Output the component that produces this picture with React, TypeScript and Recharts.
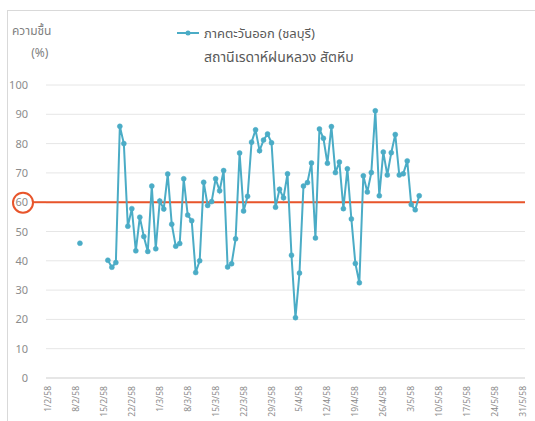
import React from "react";
import {
  LineChart,
  Line,
  XAxis,
  YAxis,
  CartesianGrid,
  ReferenceLine,
  Legend,
} from "recharts";

// วันที่บนแกน X (ทุก 7 วัน)
const weekLabels = [
  "1/2/58", "8/2/58", "15/2/58", "22/2/58", "1/3/58", "8/3/58",
  "15/3/58", "22/3/58", "29/3/58", "5/4/58", "12/4/58", "19/4/58",
  "26/4/58", "3/5/58", "10/5/58", "17/5/58", "24/5/58", "31/5/58",
];
const months = [
  { month: 2, days: 28 },
  { month: 3, days: 31 },
  { month: 4, days: 30 },
  { month: 5, days: 31 },
];
const yTicks = [0, 10, 20, 30, 40, 50, 60, 70, 80, 90, 100];

// ค่าเดี่ยวก่อนช่วงข้อมูลต่อเนื่อง
const earlyDates = ["9/2/58"];
const earlyValues = [46];

// ความชื้นรายวัน 16/2/58 - 5/5/58
const seriesStart = "16/2/58";
const humidity = [
  40.2, 37.8, 39.4, 85.9, 80.0, 51.8, 57.8, 43.4, 54.9, 48.3,
  43.2, 65.5, 44.1, 60.4, 57.7, 69.6, 52.5, 45.0, 45.9, 68.0,
  55.6, 53.7, 36.0, 40.0, 66.8, 58.9, 60.2, 68.0, 63.9, 70.8,
  37.9, 39.0, 47.5, 76.8, 57.0, 62.0, 80.5, 84.7, 77.6, 81.2,
  83.3, 80.3, 58.3, 64.4, 61.5, 69.7, 41.9, 20.6, 35.8, 65.5,
  66.7, 73.4, 47.8, 85.0, 81.8, 73.3, 85.8, 70.1, 73.7, 57.8,
  71.4, 54.3, 39.1, 32.5, 69.0, 63.5, 70.1, 91.2, 62.2, 77.1,
  69.3, 76.9, 83.1, 69.3, 69.7, 74.1, 59.2, 57.4, 62.2,
];

const threshold = 60;

const days: string[] = [];
months.forEach(({ month, days: n }) => {
  for (let d = 1; d <= n; d++) days.push(`${d}/${month}/58`);
});
const startIdx = days.indexOf(seriesStart);
const data = days.map((date, i) => {
  const e = earlyDates.indexOf(date);
  let value: number | null = null;
  if (e >= 0) value = earlyValues[e];
  const k = i - startIdx;
  if (k >= 0 && k < humidity.length) value = humidity[k];
  return { date, value };
});

const LINE = "#4bacc6";
const RED = "#e8552b";
const FONT = "'Noto Sans', 'Noto Sans Thai', Tahoma, sans-serif";

const XTick = (props: any) => {
  const { x, payload } = props;
  const y = 386;
  if (!weekLabels.includes(payload.value)) return null;
  return (
    <text
      x={x}
      y={y}
      transform={`rotate(-90, ${x}, ${y})`}
      textAnchor="end"
      dy={3}
      fontSize={8.5}
      fill="#8c8c8c"
      fontFamily={FONT}
    >
      {payload.value}
    </text>
  );
};

const YTick = (props: any) => {
  const { x, y, payload } = props;
  const hit = payload.value === threshold;
  return (
    <g>
      <text
        x={x}
        y={y}
        dy={4}
        textAnchor="end"
        fontSize={11}
        fill="#8c8c8c"
        fontFamily={FONT}
      >
        {payload.value}
      </text>
      {hit && (
        <g>
          <circle cx={x - 5} cy={y + 0.5} r={10} fill="none" stroke={RED} strokeWidth={2} />
          <line x1={x + 5} x2={x + 18} y1={y} y2={y} stroke={RED} strokeWidth={2} />
        </g>
      )}
    </g>
  );
};

const LegendBox = () => (
  <div style={{ fontFamily: FONT, color: "#595959", fontSize: 13, lineHeight: "24px" }}>
    <div style={{ display: "flex", alignItems: "center" }}>
      <svg width={26} height={10} style={{ marginRight: 3 }}>
        <line x1={2} x2={24} y1={5} y2={5} stroke={LINE} strokeWidth={2} />
        <circle cx={13} cy={5} r={2.5} fill={LINE} />
      </svg>
      <span>ภาคตะวันออก (ชลบุรี)</span>
    </div>
    <div style={{ marginLeft: 29, fontSize: 14 }}>สถานีเรดาห์ฝนหลวง สัตหีบ</div>
  </div>
);

export default function App() {
  return (
    <div style={{ position: "fixed", left: 0, top: 0, width: 535, height: 421, overflow: "hidden", background: "#fff" }}>
      <div
        style={{
          position: "absolute",
          left: 7,
          top: 10,
          width: 560,
          height: 440,
          border: "1px solid #d9d9d9",
        }}
      />
      <div
        style={{
          position: "absolute",
          left: 12,
          top: 20,
          fontFamily: FONT,
          fontSize: 12,
          color: "#7f7f7f",
          textAlign: "center",
          lineHeight: "22px",
        }}
      >
        <div>ความชื้น</div>
        <div style={{ marginLeft: 16 }}>(%)</div>
      </div>
      <div style={{ position: "absolute", left: 0, top: 0 }}>
        <LineChart
          width={535}
          height={421}
          data={data}
          margin={{ top: 85, right: 10, bottom: 3, left: 10 }}
        >
          <CartesianGrid vertical={false} stroke="#e6e6e6" />
          <XAxis
            dataKey="date"
            interval={6}
            tick={<XTick />}
            tickLine={false}
            axisLine={{ stroke: "#d9d9d9" }}
            height={40}
            padding={{ left: 2, right: 2 }}
          />
          <YAxis
            domain={[0, 100]}
            ticks={yTicks}
            width={36}
            tick={<YTick />}
            tickLine={false}
            axisLine={false}
            tickSize={0}
            tickMargin={18}
            interval={0}
          />
          <ReferenceLine y={threshold} stroke={RED} strokeWidth={2} />
          <Legend
            verticalAlign="middle"
            align="center"
            layout="horizontal"
            content={<LegendBox />}
            wrapperStyle={{ top: 21, left: 175, width: 260 }}
          />
          <Line
            dataKey="value"
            stroke={LINE}
            strokeWidth={2}
            dot={{ r: 2.5, fill: LINE, stroke: LINE, strokeWidth: 0.5 }}
            activeDot={false}
            connectNulls={false}
            isAnimationActive={false}
          />
        </LineChart>
      </div>
    </div>
  );
}
